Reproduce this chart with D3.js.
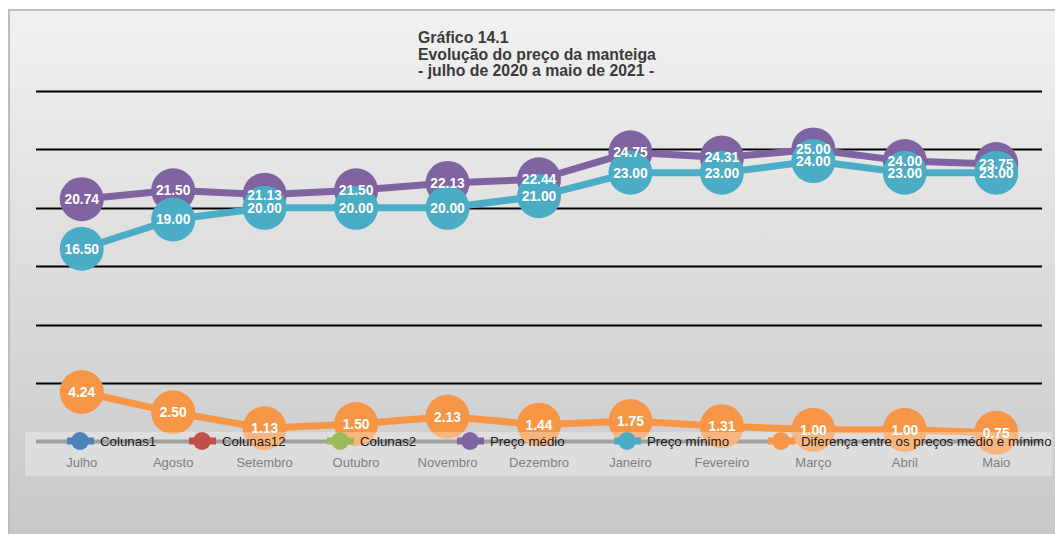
<html>
<head>
<style>
body { margin: 0; background: #fff; }
text { font-family: "Liberation Sans", Arial, sans-serif; }
.title { font-size: 15.8px; font-weight: bold; fill: #3a3a3a; }
.lbl { font-size: 13.8px; font-weight: bold; fill: #fff; }
.cat { font-size: 13px; fill: #808080; }
.leg { font-size: 13.3px; fill: #1a1a1a; }
</style>
<script src="https://cdn.jsdelivr.net/npm/d3@7"></script>
</head>
<body>
<script>
var months = ["Julho", "Agosto", "Setembro", "Outubro", "Novembro", "Dezembro", "Janeiro", "Fevereiro", "Março", "Abril", "Maio"];
var precoMedio = [20.74, 21.50, 21.13, 21.50, 22.13, 22.44, 24.75, 24.31, 25.00, 24.00, 23.75];
var precoMinimo = [16.50, 19.00, 20.00, 20.00, 20.00, 21.00, 23.00, 23.00, 24.00, 23.00, 23.00];
var diferenca = [4.24, 2.50, 1.13, 1.50, 2.13, 1.44, 1.75, 1.31, 1.00, 1.00, 0.75];
var yTicks = [5, 10, 15, 20, 25, 30];
var titleLines = ["Gráfico 14.1", "Evolução do preço da manteiga", "- julho de 2020 a maio de 2021 -"];
var legendNames = ["Colunas1", "Colunas12", "Colunas2", "Preço médio", "Preço mínimo", "Diferença entre os preços médio e mínimo"];
var legendColors = ["#4F81BD", "#C0504D", "#9BBB59", "#8064A2", "#4BACC6", "#F79646"];

var width = 1055, height = 534;

var svg = d3.select("body").append("svg")
	.attr("width", width)
	.attr("height", height);

// background frame with gradient
var grad = svg.append("defs").append("linearGradient")
	.attr("id", "bg").attr("x1", 0).attr("y1", 0).attr("x2", 0).attr("y2", 1);
grad.append("stop").attr("offset", "0%").attr("stop-color", "#f1f1f1");
grad.append("stop").attr("offset", "100%").attr("stop-color", "#c7c7c7");

svg.append("rect")
	.attr("x", 9).attr("y", 10)
	.attr("width", 1070).attr("height", 540)
	.attr("fill", "url(#bg)")
	.attr("stroke", "#bdbdbd")
	.attr("stroke-width", 2);

// title
svg.append("g").selectAll("text")
	.data(titleLines)
	.enter().append("text")
	.attr("class", "title")
	.attr("x", 418)
	.attr("y", function(d, i) { return 43 + i * 16.5; })
	.text(function(d) { return d; });

var x = d3.scaleBand().domain(months).range([36, 1042]);
var y = d3.scaleLinear().domain([0, 30]).range([441.5, 91]);

function cx(d, i) { return x(months[i]) + x.bandwidth() / 2; }

// gridlines
svg.append("g").selectAll("line")
	.data(yTicks)
	.enter().append("line")
	.attr("x1", 36).attr("x2", 1042)
	.attr("y1", function(d) { return Math.round(y(d)) + 0.5; })
	.attr("y2", function(d) { return Math.round(y(d)) + 0.5; })
	.attr("stroke", "#000")
	.attr("stroke-width", 2);

// x axis line
svg.append("line")
	.attr("x1", 36).attr("x2", 1042)
	.attr("y1", y(0)).attr("y2", y(0))
	.attr("stroke", "#777")
	.attr("stroke-width", 4);

var series = [
	{ values: precoMedio, color: "#8064A2" },
	{ values: precoMinimo, color: "#4BACC6" },
	{ values: diferenca, color: "#F79646" }
];

var line = d3.line()
	.x(cx)
	.y(function(d) { return y(d); });

series.forEach(function(s) {
	var g = svg.append("g");
	g.append("path")
		.attr("d", line(s.values))
		.attr("fill", "none")
		.attr("stroke", s.color)
		.attr("stroke-width", 7);
	g.selectAll("circle")
		.data(s.values)
		.enter().append("circle")
		.attr("cx", cx)
		.attr("cy", function(d) { return y(d); })
		.attr("r", 22)
		.attr("fill", s.color);
});

// data labels on top
series.forEach(function(s) {
	svg.append("g").selectAll("text")
		.data(s.values)
		.enter().append("text")
		.attr("class", "lbl")
		.attr("text-anchor", "middle")
		.attr("x", cx)
		.attr("y", function(d) { return y(d); })
		.attr("dy", "0.36em")
		.text(function(d) { return d.toFixed(2); });
});

// legend box (semi transparent, over the plot)
svg.append("rect")
	.attr("x", 25).attr("y", 432)
	.attr("width", 1027).attr("height", 44)
	.attr("fill", "#fff")
	.attr("fill-opacity", 0.3);

var legX = [80, 202, 340, 470, 627, 781];
var leg = svg.append("g").selectAll("g")
	.data(legendNames)
	.enter().append("g")
	.attr("transform", function(d, i) { return "translate(" + legX[i] + ",441)"; });
leg.append("line")
	.attr("x1", -13).attr("x2", 14)
	.attr("stroke", function(d, i) { return legendColors[i]; })
	.attr("stroke-width", 7);
leg.append("circle")
	.attr("r", 9)
	.attr("fill", function(d, i) { return legendColors[i]; });
leg.append("text")
	.attr("class", "leg")
	.attr("x", 20)
	.attr("dy", "0.36em")
	.text(function(d) { return d; });

// category labels
svg.append("g").selectAll("text")
	.data(months)
	.enter().append("text")
	.attr("class", "cat")
	.attr("text-anchor", "middle")
	.attr("x", function(d) { return x(d) + x.bandwidth() / 2; })
	.attr("y", 467)
	.text(function(d) { return d; });
</script>
</body>
</html>
